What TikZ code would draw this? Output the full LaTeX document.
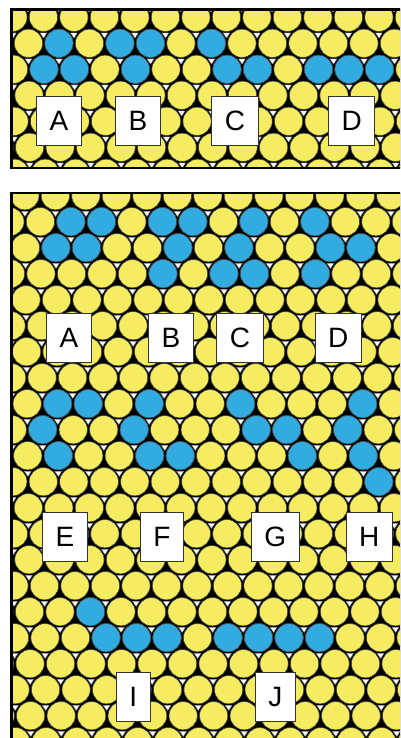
\documentclass[tikz,border=0pt]{standalone}
\usepackage{fontspec}
\setmainfont{Liberation Sans}
\definecolor{ballyellow}{RGB}{245,236,98}
\definecolor{ballblue}{RGB}{50,172,224}
\tikzset{
  ball/.style={fill=ballyellow, draw=black!75, line width=0.6pt},
  blueball/.style={fill=ballblue, draw=black!75, line width=0.6pt},
  hole/.style={fill=white, draw=black!40, line width=0.4pt},
  frameline/.style={draw=black, line width=2.4pt},
  letterbox/.style={draw=black!80, fill=white, line width=1pt, inner xsep=13pt,
    inner ysep=0pt, minimum height=49pt, text=black,
    font=\fontsize{28}{28}\selectfont}
}
\begin{document}
\begin{tikzpicture}[x=1pt,y=-1pt]
\useasboundingbox (0,0) rectangle (400,738);
\clip (0,0) rectangle (400,738);

% ---------- top panel ----------
\begin{scope}
\clip (11.3,9.5) rectangle (420,167.8);
\fill[black] (11.3,9.5) rectangle (420,167.8);
\foreach \j in {-1,...,7} {
  \pgfmathsetmacro\yy{17.3+26*\j}
  \pgfmathsetmacro\off{13.5+0.29*(\j-2)+15.25*mod(\j+2,2)}
  \foreach \n in {-1,...,13} {
    \pgfmathsetmacro\xx{\off+30.5*\n}
    \path[ball] (\xx,\yy) circle[radius=14.15pt];
  }
}
\foreach \j/\n in {1/1,1/3,1/4,1/6,2/1,2/2,2/4,2/7,2/8,2/10,2/11,2/12} {
  \pgfmathsetmacro\yy{17.3+26*\j}
  \pgfmathsetmacro\off{13.5+0.29*(\j-2)+15.25*mod(\j+2,2)}
  \pgfmathsetmacro\xx{\off+30.5*\n}
  \path[blueball] (\xx,\yy) circle[radius=14.15pt];
}
\foreach \j in {-1,...,7} {
  \pgfmathsetmacro\yy{17.3+26*\j}
  \pgfmathsetmacro\off{13.5+0.29*(\j-2)+15.25*mod(\j+2,2)}
  \foreach \n in {-1,...,13} {
    \pgfmathsetmacro\xx{\off+30.5*\n}
    \path[hole] ({\xx-3.3},{\yy+15.67}) -- ({\xx+3.3},{\yy+15.67}) -- ({\xx+0.15},{\yy+20.7}) -- cycle;
  }
}
\end{scope}
\draw[frameline] (11.3,9.5) rectangle (420,167.8);

\node[letterbox] (tA) at (59,121) {A};
\node[letterbox] (tB) at (138,121) {B};
\node[letterbox] (tC) at (235,121) {C};
\node[letterbox] (tD) at (351.7,121) {D};

% ---------- bottom panel ----------
\begin{scope}
\clip (11.3,193) rectangle (420,760);
\fill[black] (11.3,193) rectangle (420,760);
\foreach \k in {-1,...,21} {
  \pgfmathsetmacro\yy{221.7+26*\k}
  \pgfmathsetmacro\off{9.9+0.29*\k+15.25*mod(\k+2,2)}
  \foreach \n in {-1,...,13} {
    \pgfmathsetmacro\xx{\off+30.5*\n}
    \path[ball] (\xx,\yy) circle[radius=14.15pt];
  }
}
\foreach \k/\n in {0/2,0/3,0/5,0/6,0/8,0/10,
                   1/1,1/2,1/5,1/7,1/10,1/11,
                   2/5,2/7,2/8,2/10,
                   7/1,7/2,7/4,7/7,7/11,
                   8/1,8/4,8/8,8/9,8/11,
                   9/1,9/4,9/5,9/9,9/11,
                   10/12,
                   15/2,
                   16/3,16/4,16/5,16/7,16/8,16/9,16/10} {
  \pgfmathsetmacro\yy{221.7+26*\k}
  \pgfmathsetmacro\off{9.9+0.29*\k+15.25*mod(\k+2,2)}
  \pgfmathsetmacro\xx{\off+30.5*\n}
  \path[blueball] (\xx,\yy) circle[radius=14.15pt];
}
\foreach \k in {-1,...,21} {
  \pgfmathsetmacro\yy{221.7+26*\k}
  \pgfmathsetmacro\off{9.9+0.29*\k+15.25*mod(\k+2,2)}
  \foreach \n in {-1,...,13} {
    \pgfmathsetmacro\xx{\off+30.5*\n}
    \path[hole] ({\xx-3.3},{\yy+15.67}) -- ({\xx+3.3},{\yy+15.67}) -- ({\xx+0.15},{\yy+20.7}) -- cycle;
  }
}
\end{scope}
\draw[frameline] (11.3,193) rectangle (420,760);

\node[letterbox] (bA) at (69,337.5) {A};
\node[letterbox] (bB) at (171,337.5) {B};
\node[letterbox] (bC) at (240,337.5) {C};
\node[letterbox] (bD) at (338.3,337.5) {D};
\node[letterbox] (bE) at (65,537) {E};
\node[letterbox] (bF) at (162,537) {F};
\node[letterbox] (bG) at (275.3,537) {G};
\node[letterbox] (bH) at (369.3,537) {H};
\node[letterbox] (bI) at (133.3,696.5) {I};
\node[letterbox] (bJ) at (275.3,696.5) {J};
\end{tikzpicture}
\end{document}
